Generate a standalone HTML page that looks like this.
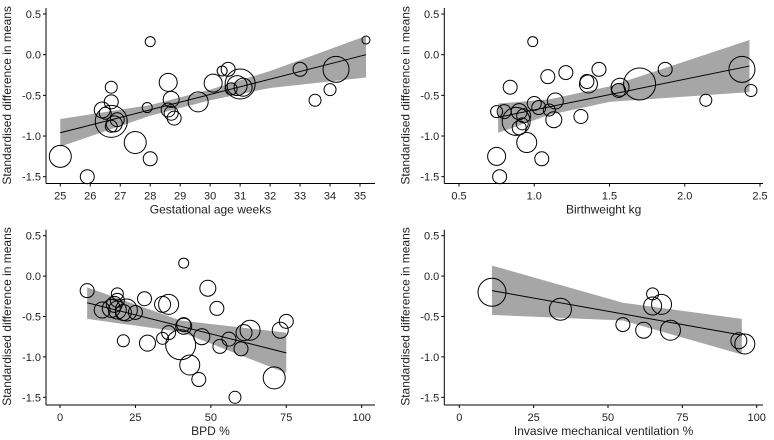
<!DOCTYPE html>
<html><head><meta charset="utf-8"><style>
body{margin:0;background:#fff;}
svg{display:block;font-family:"Liberation Sans",sans-serif;}
</style></head><body>
<svg id="chart" width="774" height="440"></svg>
<script>
const yTicks=[0.5,0.0,-0.5,-1.0,-1.5];
const yTickLabels=["0.5","0.0","-0.5","-1.0","-1.5"];
// Panel A: gestational age
const gaX=[25,25.9,26.4,26.5,26.7,26.7,26.7,26.8,26.9,26.7,27.5,27.9,28,28,28.6,28.7,28.6,28.7,28.8,29.6,30.1,30.4,30.6,30.7,30.9,31,31.1,33,33.5,34,34.2,35.2];
const gaY=[-1.25,-1.5,-0.68,-0.72,-0.82,-0.4,-0.58,-0.85,-0.8,-0.88,-1.08,-0.65,0.16,-1.28,-0.34,-0.55,-0.68,-0.72,-0.78,-0.58,-0.35,-0.2,-0.18,-0.42,-0.38,-0.36,-0.4,-0.18,-0.56,-0.43,-0.18,0.18];
const gaW=[11,7,8,6,16,6,7,8,7,6,11,5,5,7,9,8,7,7,7,10,9,5,7,6,10,15,9,7,6,6,13,4];
const gaLineX=[25,35.2],gaLineY=[-0.96,0.0];
const gaBandX=[25,28,30,32,35.2],gaBandHi=[-0.79,-0.62,-0.43,-0.2,0.23],gaBandLo=[-1.13,-0.75,-0.56,-0.41,-0.28];
const gaXTicks=[25,26,27,28,29,30,31,32,33,34,35];
// Panel B: birthweight
const bwX=[0.75,0.77,0.75,0.8,0.84,0.88,0.9,0.9,0.92,0.93,0.95,0.99,1.0,1.03,1.05,1.09,1.1,1.13,1.14,1.21,1.31,1.36,1.35,1.43,1.56,1.57,1.7,1.87,2.14,2.38,2.44];
const bwY=[-1.25,-1.5,-0.7,-0.7,-0.4,-0.82,-0.7,-0.9,-0.85,-0.75,-1.08,0.16,-0.6,-0.65,-1.28,-0.27,-0.68,-0.8,-0.57,-0.22,-0.76,-0.36,-0.33,-0.18,-0.44,-0.4,-0.36,-0.18,-0.56,-0.18,-0.44];
const bwW=[9,7,6,7,7,14,8,7,6,7,10,5,7,7,7,7,6,8,8,7,7,9,7,7,7,9,16,7,6,13,6];
const bwLineX=[0.76,2.43],bwLineY=[-0.77,-0.14];
const bwBandX=[0.76,1.1,1.5,2.43],bwBandHi=[-0.6,-0.55,-0.39,0.18],bwBandLo=[-0.96,-0.74,-0.58,-0.46];
const bwXTicks=[0.5,1.0,1.5,2.0,2.5];
// Panel C: BPD
const bpX=[9,14,17,18,19,19,19,21,22,25,21,28,29,34,36,34,36,40,41,41,41,43,46,47,49,52,53,56,58,60,61,63,71,73,75];
const bpY=[-0.18,-0.42,-0.4,-0.35,-0.22,-0.3,-0.42,-0.45,-0.42,-0.45,-0.8,-0.28,-0.83,-0.35,-0.35,-0.77,-0.7,-0.85,0.16,-0.6,-0.62,-1.1,-1.28,-0.75,-0.15,-0.4,-0.87,-0.78,-1.5,-0.9,-0.7,-0.67,-1.26,-0.67,-0.56];
const bpW=[7,8,9,8,6,7,9,8,11,7,6,7,8,8,10,6,7,15,5,7,8,10,7,8,8,7,7,7,6,7,8,10,11,8,7];
const bpLineX=[9,75],bpLineY=[-0.33,-0.95];
const bpBandX=[9,40,75],bpBandHi=[-0.14,-0.55,-0.7],bpBandLo=[-0.53,-0.69,-1.2];
const pctXTicks=[0,25,50,75,100];
// Panel D: IMV
const mvX=[11,34,55,62,65,65,68,71,94,96];
const mvY=[-0.2,-0.41,-0.6,-0.67,-0.22,-0.37,-0.35,-0.67,-0.8,-0.84];
const mvW=[14,11,7,8,6,9,10,10,8,10];
const mvLineX=[11,95],mvLineY=[-0.18,-0.73];
const mvBandX=[11,55,95],mvBandHi=[0.13,-0.33,-0.53],mvBandLo=[-0.48,-0.55,-0.97];

const NS="http://www.w3.org/2000/svg";
const svg=document.getElementById('chart');
function mk(tag,attrs,parent){const e=document.createElementNS(NS,tag);for(const k in attrs)e.setAttribute(k,attrs[k]);(parent||svg).appendChild(e);return e;}

function panel(o){
  const g=mk('g',{});
  
  
  const sx=v=>o.px0+(v-o.x0)*(o.px1-o.px0)/(o.x1-o.x0);
  const sy=v=>o.py0+(v-0.5)*(o.py1-o.py0)/(-2);
  // band
  let pts=[];
  for(let i=0;i<o.bx.length;i++)pts.push(sx(o.bx[i])+','+sy(o.bhi[i]));
  for(let i=o.bx.length-1;i>=0;i--)pts.push(sx(o.bx[i])+','+sy(o.blo[i]));
  const band=mk('polygon',{points:pts.join(' '),fill:'#a6a6a6',stroke:'none'},g);
  
  
  // circles
  for(let i=0;i<o.xs.length;i++){
    const c=mk('circle',{cx:sx(o.xs[i]),cy:sy(o.ys[i]),r:o.ws[i],fill:'none',stroke:'#000','stroke-width':1},g);
    
    
  }
  const ln=mk('line',{x1:sx(o.lx[0]),y1:sy(o.ly[0]),x2:sx(o.lx[1]),y2:sy(o.ly[1]),stroke:'#000','stroke-width':1},g);
  
  
  // axes
  const ya=mk('line',{x1:o.ax,y1:o.py0-6,x2:o.ax,y2:o.ay,stroke:'#000','stroke-width':1},g);
  
  
  const xa=mk('line',{x1:o.ax,y1:o.ay,x2:o.axr,y2:o.ay,stroke:'#000','stroke-width':1},g);
  
  
  yTicks.forEach((t,i)=>{
    mk('line',{x1:o.ax-3,y1:sy(t),x2:o.ax,y2:sy(t),stroke:'#000'},g);
    const tx=mk('text',{x:o.ax-5,y:sy(t)+4,'text-anchor':'end','font-size':11,fill:'#222'},g);
    tx.textContent=yTickLabels[i];
    
    
  });
  o.xt.forEach(t=>{
    mk('line',{x1:sx(t),y1:o.ay,x2:sx(t),y2:o.ay+3,stroke:'#000'},g);
    const tx=mk('text',{x:sx(t),y:o.ay+16,'text-anchor':'middle','font-size':11,fill:'#222'},g);
    tx.textContent=o.xtl?o.xtl(t):String(t);
    
    
  });
  const xt=mk('text',{x:(o.ax+o.axr)/2,y:o.ay+30,'text-anchor':'middle','font-size':12,fill:'#222'},g);
  xt.textContent=o.xtitle;
  
  
  const ytx=o.ax-35, yty=(o.py0+o.py1)/2;
  const yt=mk('text',{x:ytx,y:yty,'text-anchor':'middle','font-size':12,fill:'#222',transform:`rotate(-90 ${ytx} ${yty})`},g);
  yt.textContent='Standardised difference in means';
  
  
}
const f1=t=>t.toFixed(1);
panel({name:'gestational-age-panel',xs:gaX,ys:gaY,ws:gaW,lx:gaLineX,ly:gaLineY,bx:gaBandX,bhi:gaBandHi,blo:gaBandLo,xt:gaXTicks,
  x0:25,x1:35,px0:60.3,px1:360,py0:14,py1:176.7,ax:46,ay:183.5,axr:375,xtitle:'Gestational age weeks'});
panel({name:'birthweight-panel',xs:bwX,ys:bwY,ws:bwW,lx:bwLineX,ly:bwLineY,bx:bwBandX,bhi:bwBandHi,blo:bwBandLo,xt:bwXTicks,xtl:f1,
  x0:0.5,x1:2.5,px0:459,px1:760,py0:14,py1:176.7,ax:444.3,ay:183.5,axr:763,xtitle:'Birthweight kg'});
panel({name:'bpd-panel',xs:bpX,ys:bpY,ws:bpW,lx:bpLineX,ly:bpLineY,bx:bpBandX,bhi:bpBandHi,blo:bpBandLo,xt:pctXTicks,
  x0:0,x1:100,px0:60,px1:361.7,py0:235.7,py1:397.3,ax:46,ay:405,axr:375,xtitle:'BPD %'});
panel({name:'ventilation-panel',xs:mvX,ys:mvY,ws:mvW,lx:mvLineX,ly:mvLineY,bx:mvBandX,bhi:mvBandHi,blo:mvBandLo,xt:pctXTicks,
  x0:0,x1:100,px0:459.3,px1:756.7,py0:235.7,py1:397.3,ax:444.3,ay:405,axr:763,xtitle:'Invasive mechanical ventilation %'});
</script>
</body></html>
